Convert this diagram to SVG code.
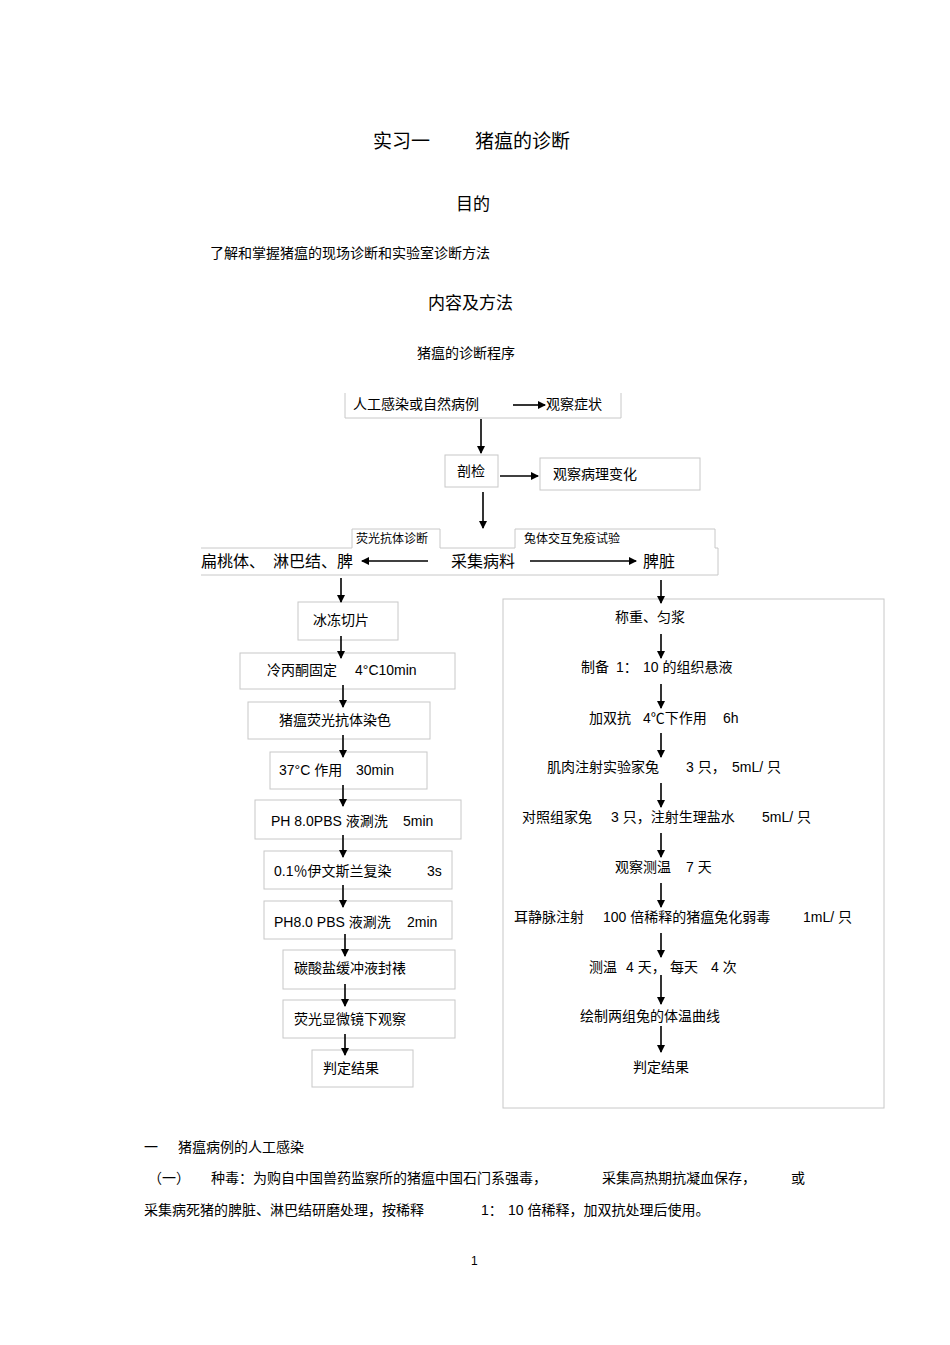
<svg xmlns="http://www.w3.org/2000/svg" width="950" height="1345" viewBox="0 0 950 1345">
<defs><marker id="ah" markerWidth="8" markerHeight="8" refX="7" refY="4" orient="auto" markerUnits="userSpaceOnUse"><path d="M0,0 L8,4 L0,8 z" fill="#000"/></marker></defs>
<style>
text{font-family:"Liberation Sans","Noto Sans CJK SC",sans-serif;font-size:14px;fill:#000}
.t{font-size:19px}.h{font-size:17px}.m{font-size:16px}.s{font-size:12px}
.b{fill:none;stroke:#c8c8c8;stroke-width:1}
.c line{stroke:#000;stroke-width:1.6;marker-end:url(#ah)}
</style>
<rect width="950" height="1345" fill="#fff"/>
<text class="t" x="373" y="148">实习一</text><text class="t" x="475" y="148">猪瘟的诊断</text>
<text class="h" x="456" y="210">目的</text>
<text x="210" y="258">了解和掌握猪瘟的现场诊断和实验室诊断方法</text>
<text class="h" x="428" y="309">内容及方法</text>
<text x="417" y="358">猪瘟的诊断程序</text>
<g id="n1"><path class="b" d="M345,393 V418 H621 V393"/><text x="353" y="409">人工感染或自然病例</text><text x="546" y="409">观察症状</text></g>
<g id="n2"><rect class="b" x="445" y="455" width="53" height="32"/><text x="457" y="476">剖检</text></g>
<g id="n3"><rect class="b" x="540" y="458" width="160" height="32"/><text x="553" y="479">观察病理变化</text></g>
<g id="n4"><path class="b" d="M201,575 H718 V548 H715 V529 H515 V548 H440 V529 H352 V548 H201"/><text class="s" x="356" y="543">荧光抗体诊断</text><text class="s" x="524" y="543">兔体交互免疫试验</text><text class="m" x="201" y="567">扁桃体、</text><text class="m" x="273" y="567">淋巴结、脾</text><text class="m" x="451" y="567">采集病料</text><text class="m" x="643" y="567">脾脏</text></g>
<g id="L1"><rect class="b" x="298" y="602" width="100" height="38"/><text x="313" y="625">冰冻切片</text></g>
<g id="L2"><rect class="b" x="240" y="653" width="215" height="36"/><text x="267" y="675">冷丙酮固定</text><text x="355" y="675">4°C10min</text></g>
<g id="L3"><rect class="b" x="248" y="702" width="182" height="37"/><text x="279" y="725">猪瘟荧光抗体染色</text></g>
<g id="L4"><rect class="b" x="270" y="752" width="157" height="37"/><text x="279" y="775">37°C 作用</text><text x="356" y="775">30min</text></g>
<g id="L5"><rect class="b" x="255" y="800" width="206" height="39"/><text x="271" y="826">PH 8.0PBS  液涮洗</text><text x="403" y="826">5min</text></g>
<g id="L6"><rect class="b" x="264" y="851" width="188" height="38"/><text x="274" y="876">0.1％伊文斯兰复染</text><text x="427" y="876">3s</text></g>
<g id="L7"><rect class="b" x="264" y="901" width="188" height="38"/><text x="274" y="927">PH8.0 PBS  液涮洗</text><text x="407" y="927">2min</text></g>
<g id="L8"><rect class="b" x="283" y="950" width="172" height="39"/><text x="294" y="973">碳酸盐缓冲液封裱</text></g>
<g id="L9"><rect class="b" x="283" y="1000" width="172" height="38"/><text x="294" y="1024">荧光显微镜下观察</text></g>
<g id="L10"><rect class="b" x="312" y="1050" width="101" height="37"/><text x="323" y="1073">判定结果</text></g>
<g id="R"><rect class="b" x="503" y="599" width="381" height="509"/>
<text x="615" y="622">称重、匀浆</text>
<text x="581" y="672">制备</text><text x="616" y="672">1：</text><text x="643" y="672">10 的组织悬液</text>
<text x="589" y="723">加双抗</text><text x="643" y="723">4℃下作用</text><text x="723" y="723">6h</text>
<text x="547" y="772">肌肉注射实验家兔</text><text x="686" y="772">3 只，</text><text x="732" y="772">5mL/ 只</text>
<text x="522" y="822">对照组家兔</text><text x="611" y="822">3 只，注射生理盐水</text><text x="762" y="822">5mL/ 只</text>
<text x="615" y="872">观察测温</text><text x="686" y="872">7 天</text>
<text x="514" y="922">耳静脉注射</text><text x="603" y="922">100 倍稀释的猪瘟兔化弱毒</text><text x="803" y="922">1mL/ 只</text>
<text x="589" y="972">测温</text><text x="626" y="972">4 天，</text><text x="670" y="972">每天</text><text x="711" y="972">4 次</text>
<text x="580" y="1021">绘制两组兔的体温曲线</text>
<text x="633" y="1072">判定结果</text></g>
<g class="c" id="connectors">
<line x1="513" y1="405" x2="545" y2="405"/>
<line x1="481" y1="419" x2="481" y2="453"/>
<line x1="500" y1="476" x2="538" y2="476"/>
<line x1="483" y1="492" x2="483" y2="528"/>
<line x1="428" y1="561" x2="362" y2="561"/>
<line x1="530" y1="561" x2="636" y2="561"/>
<line x1="341" y1="578" x2="341" y2="602"/>
<line x1="341" y1="636" x2="341" y2="658"/>
<line x1="343" y1="685" x2="343" y2="707"/>
<line x1="343" y1="735" x2="343" y2="757"/>
<line x1="343" y1="785" x2="343" y2="806"/>
<line x1="343" y1="835" x2="343" y2="857"/>
<line x1="343" y1="885" x2="343" y2="907"/>
<line x1="345" y1="934" x2="345" y2="956"/>
<line x1="345" y1="984" x2="345" y2="1006"/>
<line x1="345" y1="1034" x2="345" y2="1055"/>
<line x1="661" y1="580" x2="661" y2="603"/>
<line x1="661" y1="634" x2="661" y2="658"/>
<line x1="661" y1="684" x2="661" y2="708"/>
<line x1="661" y1="733" x2="661" y2="757"/>
<line x1="661" y1="783" x2="661" y2="807"/>
<line x1="661" y1="833" x2="661" y2="857"/>
<line x1="661" y1="883" x2="661" y2="907"/>
<line x1="661" y1="933" x2="661" y2="957"/>
<line x1="661" y1="975" x2="661" y2="1004"/>
<line x1="661" y1="1026" x2="661" y2="1052"/>
</g>
<text x="144" y="1152">一</text><text x="178" y="1152">猪瘟病例的人工感染</text>
<text x="148" y="1183">（一）</text><text x="211" y="1183">种毒：为购自中国兽药监察所的猪瘟中国石门系强毒，</text><text x="602" y="1183">采集高热期抗凝血保存，</text><text x="791" y="1183">或</text>
<text x="144" y="1215">采集病死猪的脾脏、淋巴结研磨处理，按稀释</text><text x="481" y="1215">1：</text><text x="508" y="1215">10 倍稀释，加双抗处理后使用。</text>
<text x="471" y="1265" style="font-size:12px">1</text>
</svg>
